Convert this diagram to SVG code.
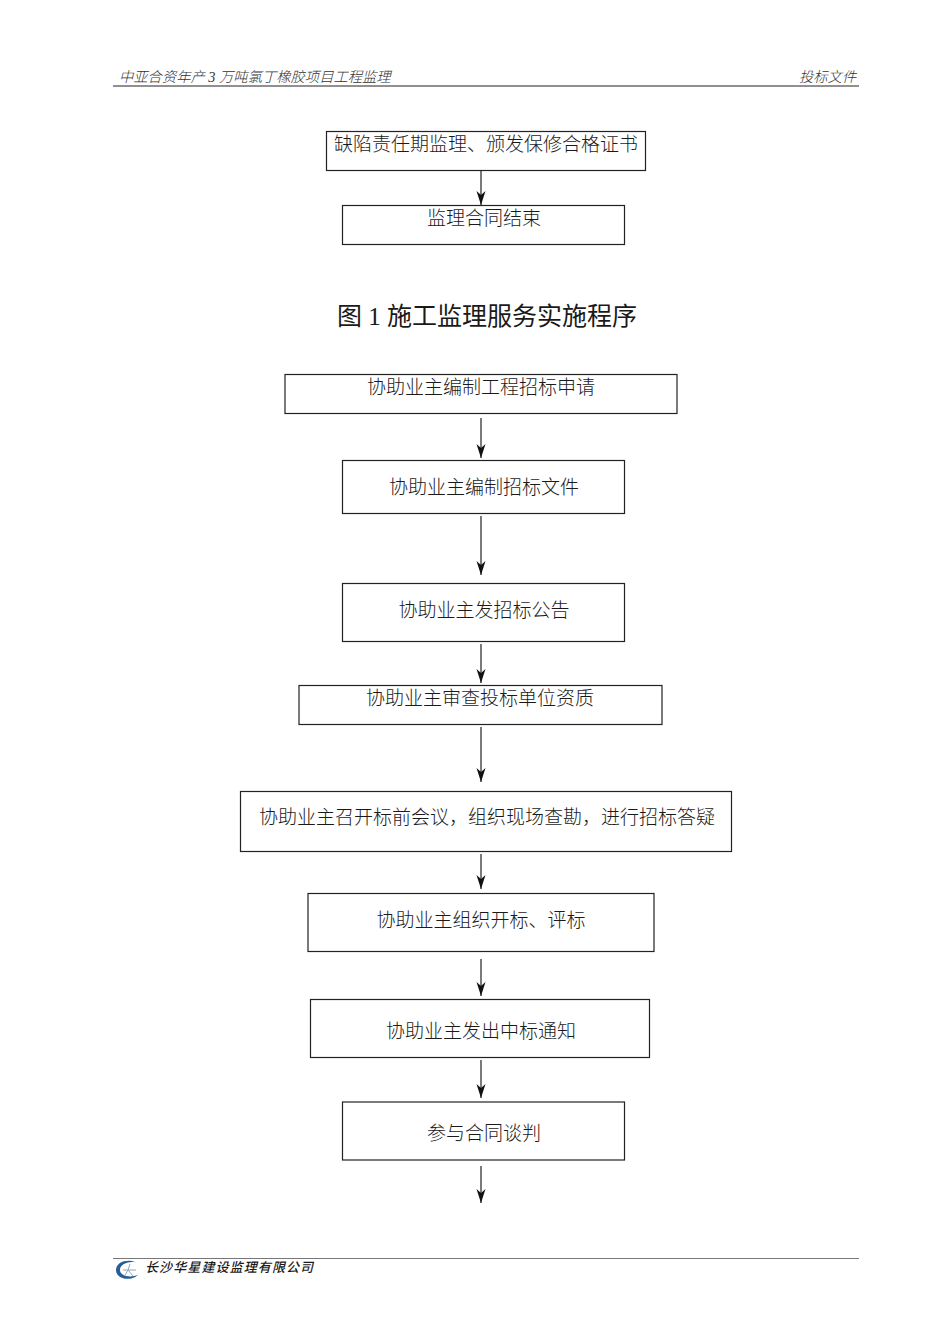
<svg xmlns="http://www.w3.org/2000/svg" width="950" height="1344" viewBox="0 0 950 1344">
<style>
text{font-family:"Liberation Serif","Noto Sans CJK SC",serif;fill:#1a1a1a}
.b{fill:#fff;stroke:#222;stroke-width:1.2}
.t{font-size:19px;text-anchor:middle;font-weight:300}
.h{font-size:14.300px;font-style:italic;fill:#333;font-weight:300}
.c{stroke:#222;stroke-width:1.2;fill:none;marker-end:url(#a)}
</style>
<defs><marker id="a" markerUnits="userSpaceOnUse" markerWidth="16" markerHeight="12" refX="14" refY="5" orient="auto"><path d="M0 0.500L14 5L0 9.500L4 5Z" fill="#111"/></marker></defs>
<g id="header"><text class="h" x="119" y="82">中亚合资年产 3 万吨氯丁橡胶项目工程监理</text><text class="h" x="799" y="82">投标文件</text><path d="M113 86H859" stroke="#222" stroke-width="1.2"/></g>
<g id="connectors">
<path class="c" d="M481 168V205"/><path class="c" d="M481 418V458"/><path class="c" d="M481 516V575"/><path class="c" d="M481 644V683"/><path class="c" d="M481 727V782"/><path class="c" d="M481 854V889"/><path class="c" d="M481 959V996"/><path class="c" d="M481 1060V1098"/><path class="c" d="M481 1166V1203"/>
</g>
<g id="n1"><rect class="b" x="326.500" y="131.500" width="319" height="39"/><text class="t" x="486" y="151">缺陷责任期监理、颁发保修合格证书</text></g>
<g id="n2"><rect class="b" x="342.500" y="205.500" width="282" height="39"/><text class="t" x="484" y="225">监理合同结束</text></g>
<g id="title"><text x="487" y="325" font-size="25" text-anchor="middle">图 1 施工监理服务实施程序</text></g>
<g id="n3"><rect class="b" x="285" y="374.500" width="392" height="39"/><text class="t" x="481" y="394">协助业主编制工程招标申请</text></g>
<g id="n4"><rect class="b" x="342.500" y="460.500" width="282" height="53"/><text class="t" x="484" y="494">协助业主编制招标文件</text></g>
<g id="n5"><rect class="b" x="342.500" y="583.500" width="282" height="58"/><text class="t" x="484" y="617">协助业主发招标公告</text></g>
<g id="n6"><rect class="b" x="299" y="685.500" width="363" height="39"/><text class="t" x="480" y="705">协助业主审查投标单位资质</text></g>
<g id="n7"><rect class="b" x="240.500" y="791.500" width="491" height="60"/><text class="t" x="487" y="824">协助业主召开标前会议，组织现场查勘，进行招标答疑</text></g>
<g id="n8"><rect class="b" x="308" y="893.500" width="346" height="58"/><text class="t" x="481" y="927">协助业主组织开标、评标</text></g>
<g id="n9"><rect class="b" x="310.500" y="999.500" width="339" height="58"/><text class="t" x="481" y="1038">协助业主发出中标通知</text></g>
<g id="n10"><rect class="b" x="342.500" y="1102" width="282" height="58"/><text class="t" x="484" y="1140">参与合同谈判</text></g>
<g id="footer"><path d="M113 1258.500H859" stroke="#777" stroke-width="1.2"/>
<path d="M136 1262.500C129 1258.500 116 1261 116 1270C116 1279 130 1282 138 1275C130 1278 120 1276 120 1270C120 1264 129 1261 136 1262.500Z" fill="#2a5d96"/>
<path d="M123 1270H136M130 1264L128 1270L133 1276M128 1270L125 1275" stroke="#8fa9bd" stroke-width="1" fill="none"/>
<text x="145" y="1272" font-size="13" font-style="italic" font-weight="500" letter-spacing="1.100">长沙华星建设监理有限公司</text></g>
</svg>
